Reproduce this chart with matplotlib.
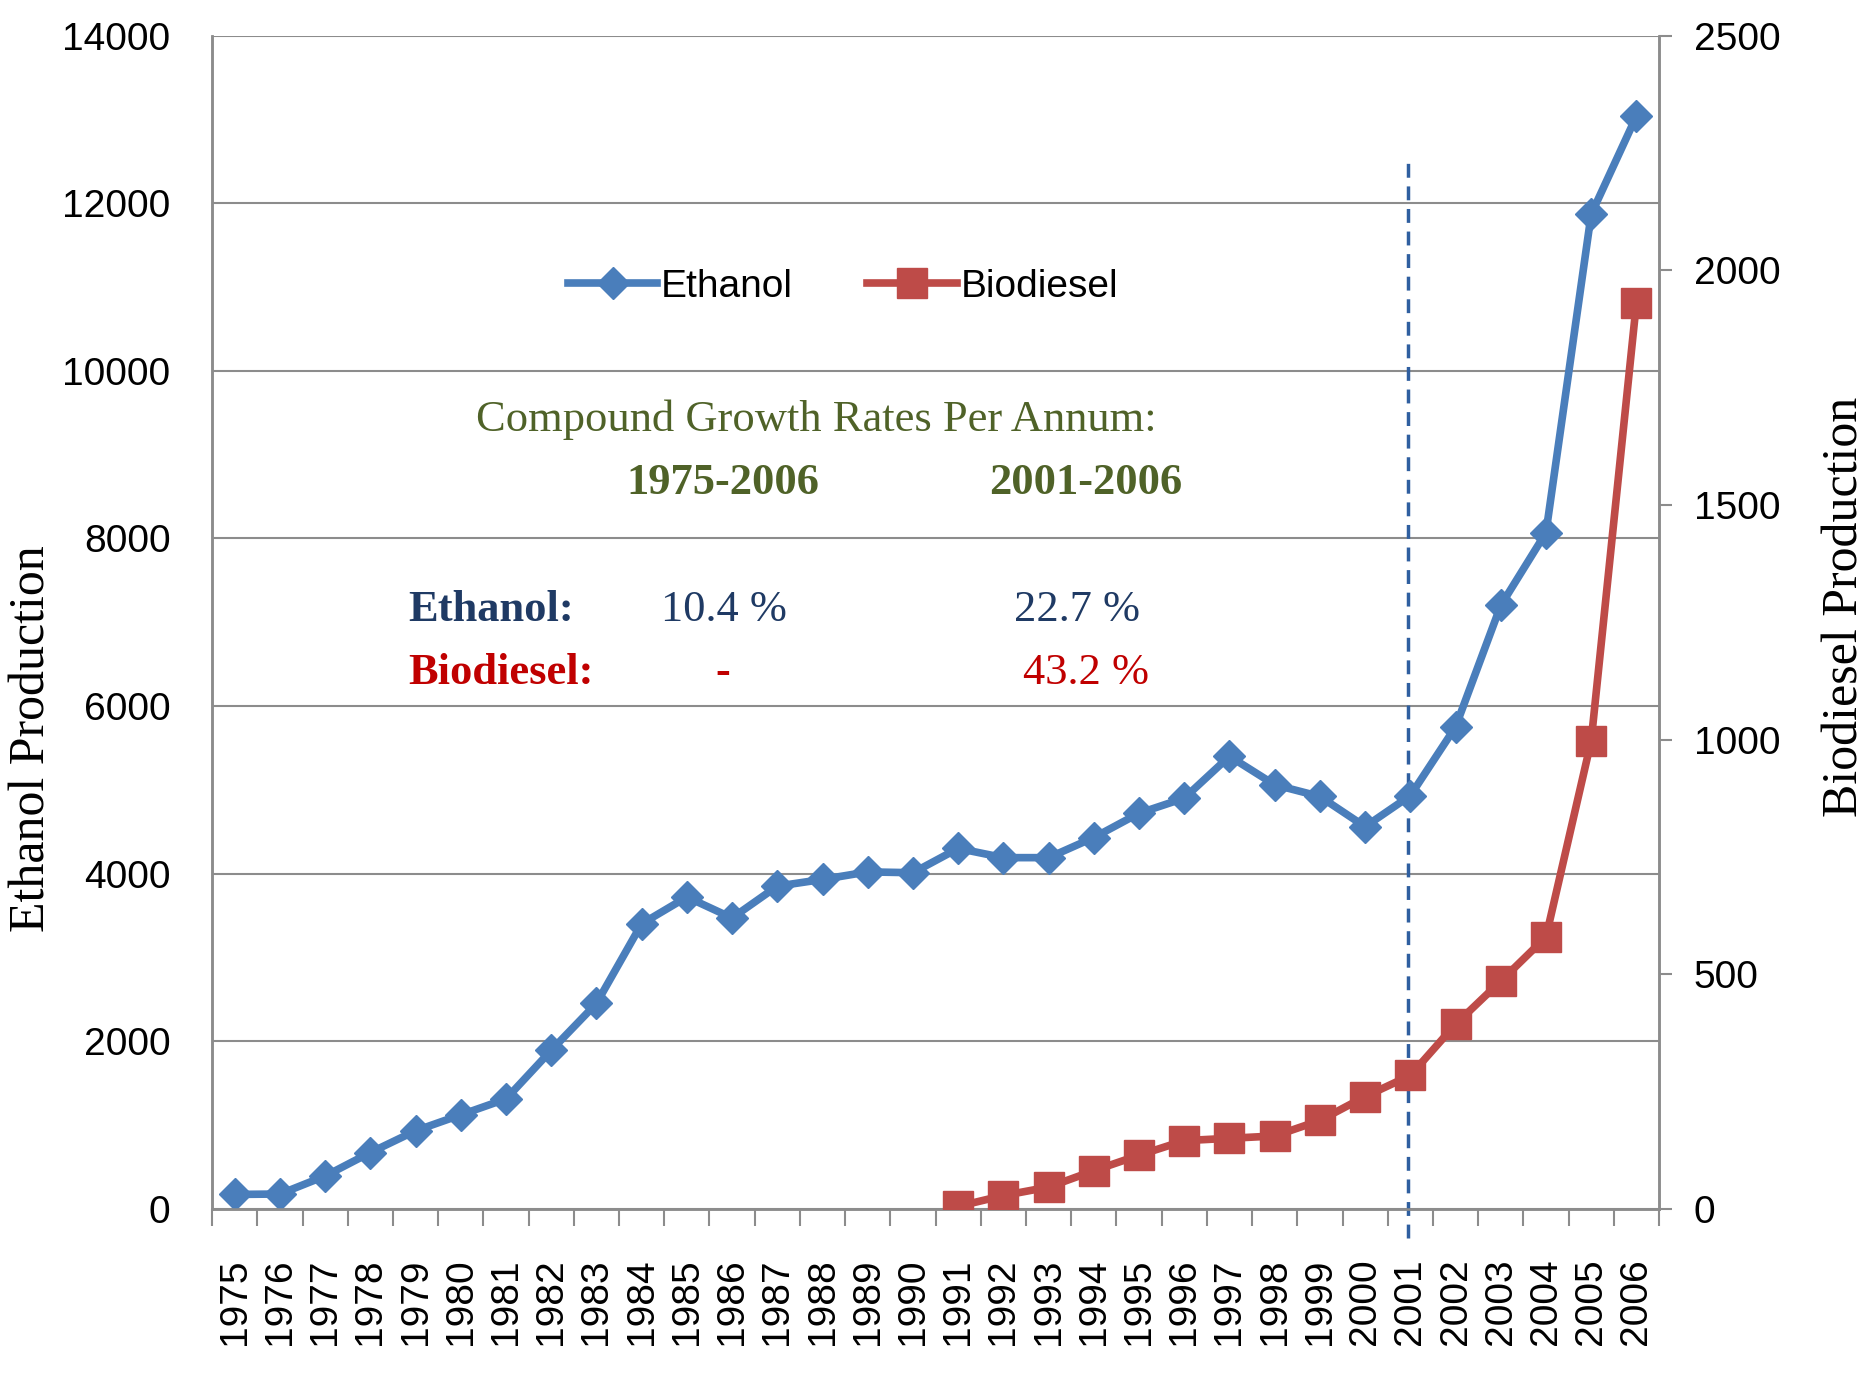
import numpy as np
import matplotlib
matplotlib.use("Agg")
import matplotlib.pyplot as plt
from matplotlib.ticker import FixedLocator

years = list(range(1975, 2007))
ethanol = [170, 175, 390, 670, 930, 1120, 1310, 1890, 2450, 3400, 3720, 3470,
           3850, 3930, 4020, 4010, 4300, 4190, 4190, 4430, 4720, 4900, 5400,
           5060, 4920, 4560, 4930, 5750, 7200, 8070, 11870, 13040]
bio_years = list(range(1991, 2007))
biodiesel = [5, 28, 46, 81, 114, 145, 150, 155, 188, 239, 284, 393, 485, 579,
             997, 1931]
marker_year = 2001

blue = "#4a7ebb"
red = "#be4b48"
grid_c = "#8c8c8c"
olive = "#4f6228"
navy = "#1f3a64"
dred = "#c00000"

plt.rcParams["font.family"] = ["Liberation Sans", "DejaVu Sans"]

fig = plt.figure(figsize=(18.67, 13.76), dpi=100)
ax = fig.add_axes([0.1136, 0.1216, 0.7750, 0.8524])
ax2 = ax.twinx()

xe = np.arange(len(years))
xb = np.array([years.index(y) for y in bio_years])

l1, = ax.plot(xe, ethanol, color=blue, lw=5.5, marker="D", ms=16,
              mec=blue, mfc=blue, label="Ethanol", zorder=4)
l2, = ax2.plot(xb, biodiesel, color=red, lw=5.5, marker="s", ms=22,
               mec=red, mfc=red, label="Biodiesel", zorder=4)

ax.set_xlim(-0.5, len(years) - 0.5)
ax.set_ylim(0, 14000)
ax2.set_ylim(0, 2500)
ax.set_yticks(np.arange(0, 14001, 2000))
ax2.set_yticks(np.arange(0, 2501, 500))

ax.set_xticks(xe)
ax.set_xticklabels([str(y) for y in years], rotation=90, fontsize=28)
ax.xaxis.set_minor_locator(FixedLocator(np.arange(-0.5, len(years), 1.0)))
ax.tick_params(axis="x", which="major", length=0, pad=36)
ax.tick_params(axis="x", which="minor", length=12, width=1.5, color=grid_c)
ax.tick_params(axis="y", length=0, pad=30, labelsize=28)
ax2.tick_params(axis="y", length=9, width=1.5, color=grid_c, pad=16,
                labelsize=28)

ax.yaxis.grid(True, color=grid_c, lw=1.5)
ax.set_axisbelow(True)
for a in (ax, ax2):
    for s in a.spines.values():
        s.set_color(grid_c)
        s.set_linewidth(1.8)
    a.spines["top"].set_visible(False)

ax.axvline(years.index(marker_year) - 0.05, ymin=-0.025, ymax=0.893,
           color="#2f5fa0", lw=2.5, ls=(0, (4, 2.5)), clip_on=False, zorder=3)

ax.set_ylabel("Ethanol Production", family="Liberation Serif", fontsize=36,
              va="center")
ax.yaxis.set_label_coords(-0.124, 0.401)
ax2.set_ylabel("Biodiesel Production", family="Liberation Serif", fontsize=36,
               va="center")
ax2.yaxis.set_label_coords(1.129, 0.513)

ax2.legend([l1, l2], ["Ethanol", "Biodiesel"], loc="center",
           bbox_to_anchor=(0.436, 0.786), ncol=2, frameon=False, fontsize=28,
           handlelength=2.3, handletextpad=0.1, columnspacing=1.9)

serif = "Liberation Serif"
T = ax.transAxes
ax.text(0.4173, 0.673, "Compound Growth Rates Per Annum:", transform=T,
        ha="center", va="center", family=serif, fontsize=32, color=olive)
ax.text(0.353, 0.619, "1975-2006", transform=T, ha="center", va="center",
        family=serif, fontsize=32, weight="bold", color=olive)
ax.text(0.604, 0.619, "2001-2006", transform=T, ha="center", va="center",
        family=serif, fontsize=32, weight="bold", color=olive)
ax.text(0.1358, 0.5107, "Ethanol:", transform=T, ha="left", va="center",
        family=serif, fontsize=32, weight="bold", color=navy)
ax.text(0.1358, 0.457, "Biodiesel:", transform=T, ha="left", va="center",
        family=serif, fontsize=32, weight="bold", color=dred)
ax.text(0.354, 0.5107, "10.4 %", transform=T, ha="center", va="center",
        family=serif, fontsize=32, color=navy)
ax.text(0.598, 0.5107, "22.7 %", transform=T, ha="center", va="center",
        family=serif, fontsize=32, color=navy)
ax.text(0.353, 0.457, "-", transform=T, ha="center", va="center",
        family=serif, fontsize=32, weight="bold", color=dred)
ax.text(0.604, 0.457, "43.2 %", transform=T, ha="center", va="center",
        family=serif, fontsize=32, color=dred)

fig.savefig("out.png", dpi=100)
